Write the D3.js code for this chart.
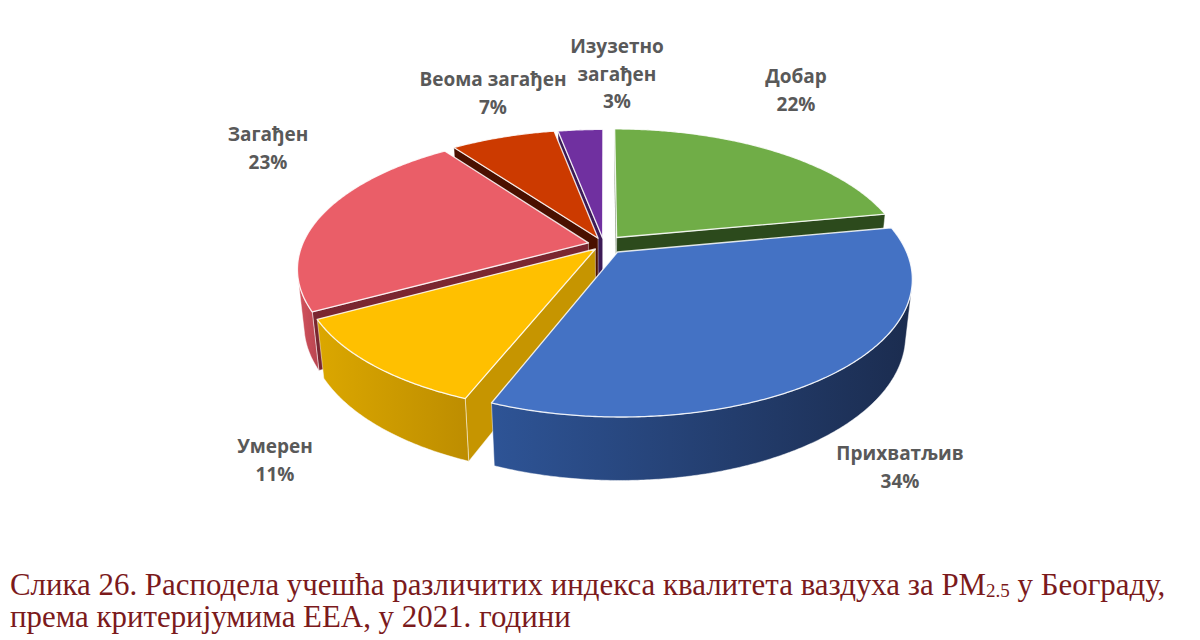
<!DOCTYPE html>
<html>
<head>
<meta charset="utf-8">
<script src="https://cdn.jsdelivr.net/npm/d3@7"></script>
<style>
  html, body { margin: 0; padding: 0; background: #ffffff; }
  svg { display: block; }
</style>
</head>
<body>
<svg id="chart" width="1200" height="640"></svg>
<script>
// ---------- data ----------
const categories = ["Добар", "Прихватљив", "Умерен", "Загађен", "Веома загађен", "Изузетно загађен"];
const values = [22, 34, 11, 23, 7, 3];
const labelLines = [["Добар"], ["Прихватљив"], ["Умерен"], ["Загађен"], ["Веома загађен"], ["Изузетно", "загађен"]];

// ---------- style / layout ----------
const topColors   = ["#70ad47", "#4472c4", "#ffc000", "#ea5e68", "#cc3a00", "#7030a0"];
const wallLight   = ["#4f7a33", "#2e5496", "#dba700", "#d4545f", "#9a2c00", "#502277"];
const wallDark    = ["#3a5a25", "#1b2c4f", "#bd8d00", "#b8444f", "#6e1f00", "#3a1858"];
const radialColor = ["#2c4a1c", "#1f3864", "#c69500", "#7a2630", "#4a1000", "#3c1a56"];
const explode     = [20, 21, 13, 16, 15, 14];
const labelPos    = [[796, 83], [900, 460], [275, 453], [268, 141], [493, 86], [617, 53]];

const cx = 604, cy = 244.5, R = 286, H = 63;
const alpha = 27.3 * Math.PI / 180, Dcam = 1366;
const sa = Math.sin(alpha), ca = Math.cos(alpha);

function depth(X, Y, Z) { return Z * ca + Y * sa; }
function proj(X, Y, Z) {
  const sy = Z * sa - Y * ca;
  const f = Dcam / (Dcam - depth(X, Y, Z));
  return [cx + X * f, cy + sy * f];
}
function area(pts) {
  let s = 0;
  for (let i = 0; i < pts.length; i++) {
    const a = pts[i], b = pts[(i + 1) % pts.length];
    s += a[0] * b[1] - b[0] * a[1];
  }
  return s / 2;
}
const line = d3.line().curve(d3.curveLinearClosed);

const svg = d3.select("#chart");
const defs = svg.append("defs");
const gWalls = svg.append("g");
const gOuter = svg.append("g");
const gTops = svg.append("g");
const gLabels = svg.append("g");

const pie = d3.pie().sort(null).value(d => d).startAngle(0).endAngle(2 * Math.PI);
const arcs = pie(values);
const radialWalls = [];

arcs.forEach((a, i) => {
  const mid = (a.startAngle + a.endAngle) / 2;
  const ox = explode[i] * Math.sin(mid), oz = -explode[i] * Math.cos(mid);
  const W = (r, phi, Y) => [ox + r * Math.sin(phi), Y, oz - r * Math.cos(phi)];
  const P = (r, phi, Y) => proj(...W(r, phi, Y));
  const n = Math.max(4, Math.ceil((a.endAngle - a.startAngle) / (Math.PI / 360)));
  const angs = d3.range(n + 1).map(k => a.startAngle + (a.endAngle - a.startAngle) * k / n);
  const topArc = angs.map(t => P(R, t, 0));
  const botArc = angs.map(t => P(R, t, -H));
  const apexT = P(0, 0, 0), apexB = P(0, 0, -H);

  // radial walls (collected, drawn back to front)
  [a.startAngle, a.endAngle].forEach((ang, e) => {
    const w = e === 0
      ? [apexT, P(R, ang, 0), P(R, ang, -H), apexB]
      : [P(R, ang, 0), apexT, apexB, P(R, ang, -H)];
    if (area(w) < 0) {
      const c = W(R * 0.5, ang, -H / 2);
      radialWalls.push({ pts: w, i, dep: depth(...c) });
    }
  });

  // outer wall: visible runs
  const vis = [];
  for (let k = 0; k < n; k++) {
    vis.push(area([topArc[k], topArc[k + 1], botArc[k + 1], botArc[k]]) < 0);
  }
  let k = 0;
  while (k < n) {
    if (!vis[k]) { k++; continue; }
    let j = k;
    while (j < n && vis[j]) j++;
    const tops = topArc.slice(k, j + 1);
    const bots = botArc.slice(k, j + 1).reverse();
    const gid = "wg" + i + "_" + k;
    const grad = defs.append("linearGradient").attr("id", gid)
      .attr("x1", 0).attr("y1", 0).attr("x2", 1).attr("y2", 0);
    grad.append("stop").attr("offset", "0%").attr("stop-color", wallLight[i]);
    grad.append("stop").attr("offset", "100%").attr("stop-color", wallDark[i]);
    gOuter.append("path").attr("d", line(tops.concat(bots)))
      .attr("fill", `url(#${gid})`)
      .attr("stroke", "#ffffff").attr("stroke-opacity", 0.6).attr("stroke-width", 0.8)
      .attr("stroke-linejoin", "round");
    k = j;
  }

  // top face
  gTops.append("path").attr("d", line([apexT].concat(topArc)))
    .attr("fill", topColors[i])
    .attr("stroke", "#ffffff").attr("stroke-opacity", 0.85).attr("stroke-width", 1.3)
    .attr("stroke-linejoin", "round");

  // label
  const lines = labelLines[i].concat([d3.format(".0%")(a.data / d3.sum(values))]);
  const t = gLabels.append("text")
    .attr("x", labelPos[i][0]).attr("y", labelPos[i][1])
    .attr("text-anchor", "middle")
    .attr("font-family", "'Open Sans', 'Noto Sans', sans-serif")
    .attr("font-weight", 700).attr("font-size", 19).attr("fill", "#595959");
  lines.forEach((s, li) => {
    t.append("tspan").attr("x", labelPos[i][0]).attr("dy", li === 0 ? 0 : 27.5).text(s);
  });
});

radialWalls.sort((p, q) => p.dep - q.dep).forEach(w => {
  gWalls.append("path").attr("d", line(w.pts))
    .attr("fill", radialColor[w.i])
    .attr("stroke", "#ffffff").attr("stroke-opacity", 0.55).attr("stroke-width", 0.8)
    .attr("stroke-linejoin", "round");
});

// caption
const cap = svg.append("g")
  .attr("font-family", "'Liberation Serif', 'Times New Roman', serif")
  .attr("font-size", 30.9).attr("fill", "#7b1a1c");
const c1 = cap.append("text").attr("x", 10).attr("y", 595);
c1.append("tspan").text("Слика 26. Расподела учешћа различитих индекса квалитета ваздуха за PM");
c1.append("tspan").attr("font-size", 19).attr("dy", 2).text("2.5");
c1.append("tspan").attr("dy", -2).text(" у Београду,");
cap.append("text").attr("x", 10).attr("y", 627).text("према критеријумима ЕЕА, у 2021. години");
</script>
</body>
</html>
